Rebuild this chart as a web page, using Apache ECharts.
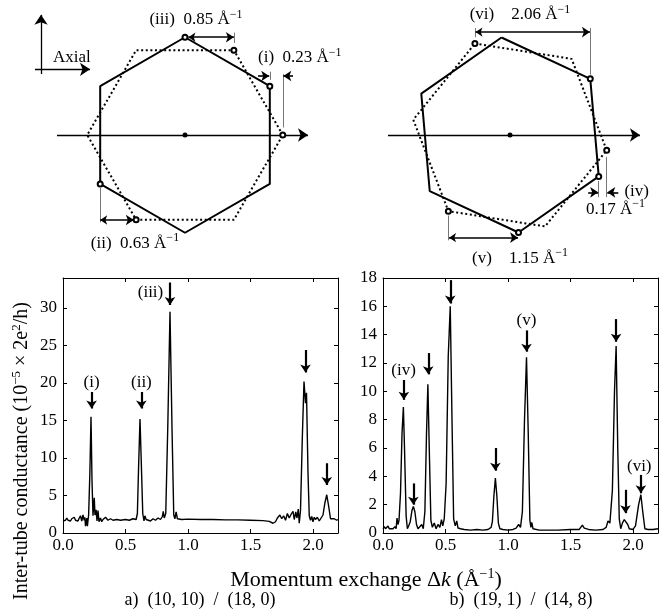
<!DOCTYPE html>
<html>
<head>
<meta charset="utf-8">
<script src="https://cdn.jsdelivr.net/npm/echarts@6/dist/echarts.min.js"></script>
<style>
    html, body {margin: 0; padding: 0; background: #fff;}
    #chart {width: 671px; height: 614px;}
</style>
</head>
<body>
<div id="chart"></div>
<script>
const FONT = "'Liberation Serif', 'DejaVu Serif', serif"

// 曲线 a) (10,10)/(18,0)  [Δk, G]
const curveA = [
    [0.00,1.6],[0.01,1.8],[0.02,1.7],[0.03,2.0],[0.04,1.7],[0.05,1.8],[0.06,1.6],[0.07,1.9],[0.08,1.8],
    [0.09,2.1],[0.10,1.7],[0.11,1.9],[0.12,1.6],[0.13,2.0],[0.14,2.3],[0.15,1.6],[0.16,2.4],[0.17,1.7],
    [0.175,2.1],[0.18,0.9],[0.19,2.0],[0.195,0.9],[0.205,2.4],[0.215,8.0],[0.224,15.5],[0.232,7.0],
    [0.24,2.3],[0.25,4.7],[0.256,2.4],[0.265,3.1],[0.272,1.6],[0.28,3.0],[0.288,1.5],[0.30,2.0],[0.31,1.5],
    [0.32,1.8],[0.34,2.1],[0.36,1.7],[0.38,1.9],[0.40,1.7],[0.43,1.8],[0.46,1.7],[0.50,1.8],[0.53,1.7],
    [0.56,1.9],[0.585,1.8],[0.595,2.6],[0.605,9.0],[0.616,15.2],[0.627,9.0],[0.638,2.6],[0.648,1.6],
    [0.655,2.3],[0.665,1.8],[0.68,1.9],[0.70,1.6],[0.72,1.9],[0.74,1.7],[0.76,2.0],[0.78,1.8],[0.795,2.2],
    [0.802,2.9],[0.81,2.0],[0.822,2.6],[0.838,14.0],[0.856,29.5],[0.872,14.0],[0.886,2.4],[0.895,1.9],
    [0.905,2.8],[0.915,1.9],[0.93,2.0],[0.95,1.8],[1.00,1.85],[1.10,1.8],[1.20,1.8],[1.30,1.75],[1.40,1.75],
    [1.50,1.7],[1.60,1.65],[1.65,1.55],[1.68,1.3],[1.70,1.5],[1.715,2.0],[1.735,2.4],[1.75,1.9],[1.765,2.3],
    [1.78,1.7],[1.795,2.6],[1.81,2.0],[1.825,2.5],[1.84,2.9],[1.85,1.8],[1.862,2.8],[1.872,2.0],[1.882,3.2],
    [1.89,1.3],[1.90,3.0],[1.915,13.0],[1.928,20.2],[1.94,17.3],[1.948,18.7],[1.96,8.0],[1.97,2.3],[1.98,1.7],
    [1.99,2.2],[2.00,1.5],[2.01,2.1],[2.02,1.8],[2.035,2.1],[2.05,1.6],[2.065,2.0],[2.08,2.4],[2.095,4.0],
    [2.11,5.1],[2.125,3.6],[2.14,1.9],[2.15,1.7],[2.17,1.9],[2.19,1.7],[2.2,1.8]
]
// 曲线 b) (19,1)/(14,8)
const curveB = [
    [0.00,0.3],[0.01,0.45],[0.02,0.3],[0.03,0.35],[0.04,0.5],[0.05,0.3],[0.065,0.4],[0.08,0.3],[0.095,0.45],
    [0.105,0.3],[0.112,1.05],[0.12,0.6],[0.128,0.9],[0.14,2.8],[0.152,7.0],[0.163,8.9],[0.172,6.0],[0.185,1.2],
    [0.195,0.3],[0.205,0.5],[0.218,0.8],[0.232,1.6],[0.243,1.87],[0.255,1.5],[0.268,0.6],[0.28,0.3],[0.295,0.4],
    [0.31,0.6],[0.322,0.3],[0.335,1.5],[0.348,7.0],[0.359,10.5],[0.37,6.0],[0.383,0.9],[0.395,0.4],[0.41,0.7],
    [0.425,0.3],[0.44,0.6],[0.455,0.4],[0.468,0.95],[0.478,0.5],[0.49,1.0],[0.505,3.5],[0.522,12.5],[0.538,16.0],
    [0.552,8.0],[0.565,1.0],[0.578,0.5],[0.59,0.85],[0.60,0.35],[0.62,0.3],[0.65,0.25],[0.70,0.2],[0.75,0.25],
    [0.80,0.2],[0.84,0.25],[0.865,0.4],[0.875,0.8],[0.887,2.6],[0.899,3.88],[0.911,2.6],[0.923,0.7],[0.935,0.3],
    [0.96,0.25],[1.00,0.2],[1.04,0.25],[1.065,0.35],[1.085,0.6],[1.10,0.4],[1.115,1.5],[1.132,8.0],[1.148,12.4],
    [1.162,7.0],[1.175,0.9],[1.183,0.4],[1.19,0.75],[1.20,0.3],[1.25,0.2],[1.30,0.2],[1.40,0.2],[1.50,0.25],
    [1.57,0.25],[1.595,0.56],[1.61,0.35],[1.625,0.45],[1.645,0.25],[1.70,0.2],[1.76,0.25],[1.785,0.4],[1.80,0.85],
    [1.815,0.7],[1.835,3.0],[1.852,10.0],[1.865,13.2],[1.878,6.0],[1.89,1.0],[1.902,0.3],[1.915,0.7],[1.93,0.95],
    [1.945,0.9],[1.958,0.6],[1.97,0.3],[1.985,0.2],[2.00,0.25],[2.02,0.5],[2.045,2.0],[2.063,2.7],[2.078,1.5],
    [2.095,0.3],[2.12,0.25],[2.16,0.25],[2.2,0.3]
]

// 峰的箭头 [x, y起, y止]
const arrowsA = [[0.229, 18.8, 16.6], [0.627, 18.8, 16.6], [0.856, 33.4, 30.4], [1.94, 24.4, 21.4], [2.11, 9.3, 6.4]]
const arrowsB = [[0.167, 10.8, 9.4], [0.243, 3.5, 2.0], [0.362, 12.7, 11.2], [0.538, 17.85, 16.2],
    [0.899, 6.0, 4.4], [1.148, 14.3, 12.8], [1.865, 15.1, 13.5], [1.94, 3.05, 1.4], [2.063, 4.1, 2.8]]
const tagsA = [['(i)', 0.229, 20.1], ['(ii)', 0.627, 20.1], ['(iii)', 0.70, 32.0]]
const tagsB = [['(iv)', 0.165, 11.5], ['(v)', 1.148, 15.0], ['(vi)', 2.05, 4.7]]

const xTicks = [0, 0.5, 1.0, 1.5, 2.0]
const yTicksA = [0, 5, 10, 15, 20, 25, 30]
const yTicksB = [0, 2, 4, 6, 8, 10, 12, 14, 16, 18]

// 上方示意图 (Å⁻¹), 中心为原点
const hexSolidL = [[0, 1.70], [1.475, 0.85], [1.475, -0.85], [0, -1.70], [-1.475, -0.85], [-1.475, 0.85]]
const hexDotL = [[1.70, 0], [0.85, 1.475], [-0.85, 1.475], [-1.70, 0], [-0.85, -1.475], [0.85, -1.475]]
const hexSolidR = [[-0.148, 1.696], [1.396, 0.977], [1.543, -0.720], [0.148, -1.696], [-1.396, -0.977], [-1.543, 0.720]]
const hexDotR = [[-0.61, 1.59], [1.072, 1.324], [1.682, -0.266], [0.61, -1.59], [-1.072, -1.324], [-1.682, 0.266]]
const ptsL = [[0, 1.70], [1.475, 0.85], [1.70, 0], [0.85, 1.475], [-1.475, -0.85], [-0.85, -1.475]]
const ptsR = [[-0.61, 1.59], [1.396, 0.977], [1.682, -0.266], [1.543, -0.720], [-1.072, -1.324], [0.148, -1.696]]

// 箭头: [x1, y1, x2, y2]
const axisArrowL = [[-2.226, 0, 2.139, 0], [-2.504, 1.06, -2.504, 2.09], [-2.609, 1.142, -1.652, 1.142]]
const axisArrowR = [[-2.122, 0, 2.26, 0]]
const dimDoubleL = [[0.06, 1.70, 0.85, 1.70], [-1.475, -1.478, -0.89, -1.478]]
const dimSingleL = [[1.27, 1.026, 1.465, 1.026], [1.878, 1.026, 1.71, 1.026]]
const dimDoubleR = [[-0.60, 1.79, 1.39, 1.79], [-1.06, -1.786, 0.14, -1.786]]
const dimSingleR = [[1.36, -0.997, 1.533, -0.997], [1.883, -0.997, 1.692, -0.997]]
const guideL = [[0.85, 1.78, 0.85, 1.60], [1.475, 1.10, 1.475, 0.96], [1.70, 1.06, 1.70, 0.13], [-1.475, -0.92, -1.475, -1.52]]
const guideR = [[-0.61, 1.86, -0.61, 1.70], [1.396, 1.86, 1.396, 1.05], [1.543, -0.80, 1.543, -1.08],
    [1.682, -0.38, 1.682, -1.08], [-1.072, -1.40, -1.072, -1.83]]

// 文字 [文本, 上标, x, y]
const notesCL = [['(iii)  0.85 Å', '−1', 0.19, 2.0], ['(ii)  0.63 Å', '−1', -0.87, -1.88]]
const notesLL = [['(i)  0.23 Å', '−1', 1.27, 1.34], ['Axial', '', -2.296, 1.34]]
const notesCR = [['(vi)    2.06 Å', '−1', 0.174, 2.087], ['(v)    1.15 Å', '−1', 0.174, -2.14]]
const notesLR = [['(iv)', '', 1.99, -0.99], ['0.17 Å', '−1', 1.32, -1.29]]

const chart = echarts.init(document.getElementById('chart'))

const sup = {fontSize: 12, lineHeight: 9, verticalAlign: 'top', fontFamily: FONT, color: '#000'}

function frameX(gi, pos, labels) {
    return {
        type: 'value', gridIndex: gi, position: pos, min: 0, max: 2.2, interval: 0.5,
        axisLine: {show: true, onZero: false, lineStyle: {color: '#000', width: 1}},
        axisTick: {show: true, inside: true, length: 4, lineStyle: {color: '#000'}},
        axisLabel: {
            show: labels, color: '#000', fontFamily: FONT, fontSize: 17, margin: 4,
            formatter: v => xTicks.some(t => Math.abs(t - v) < 1e-6) ? v.toFixed(1) : ''
        },
        splitLine: {show: false}
    }
}

function frameY(gi, pos, max, step, ticks, labels) {
    return {
        type: 'value', gridIndex: gi, position: pos, min: 0, max: max, interval: step,
        axisLine: {show: true, onZero: false, lineStyle: {color: '#000', width: 1}},
        axisTick: {show: true, inside: true, length: 4, lineStyle: {color: '#000'}},
        axisLabel: {
            show: labels, color: '#000', fontFamily: FONT, fontSize: 17, margin: 6,
            formatter: v => ticks.indexOf(v) >= 0 ? String(v) : ''
        },
        splitLine: {show: false}
    }
}

function hidden(gi, min, max) {
    return {type: 'value', gridIndex: gi, min: min, max: max, show: false}
}

function arrowSeries(ax, list, sym, size, width) {
    return {
        type: 'lines', coordinateSystem: 'cartesian2d', xAxisIndex: ax, yAxisIndex: ax,
        symbol: sym, symbolSize: size, silent: true, z: 5,
        lineStyle: {color: '#000', width: width, opacity: 1, curveness: 0},
        data: list.map(a => ({coords: [[a[0], a[1]], [a[2], a[3]]]}))
    }
}

function peakArrows(ax, list) {
    return arrowSeries(ax, list.map(a => [a[0], a[1], a[0], a[2]]), ['none', 'arrow'], [7, 8], 2.2)
}

function tagSeries(ax, list, size) {
    return {
        type: 'scatter', xAxisIndex: ax, yAxisIndex: ax, symbolSize: 0, silent: true, z: 6,
        itemStyle: {opacity: 1},
        label: {show: true, position: [0, 0], align: 'center', verticalAlign: 'middle', opacity: 1,
            color: '#000', textBorderWidth: 0, fontFamily: FONT, fontSize: size, formatter: p => p.data[2]},
        data: list.map(t => [t[1], t[2], t[0]])
    }
}

function noteSeries(ax, list, align) {
    return {
        type: 'scatter', xAxisIndex: ax, yAxisIndex: ax, symbolSize: 0, silent: true, z: 6,
        itemStyle: {opacity: 1},
        label: {show: true, position: [0, 0], align: align, verticalAlign: 'middle', opacity: 1,
            color: '#000', textBorderWidth: 0, fontFamily: FONT, fontSize: 17, lineHeight: 22, rich: {s: sup},
            formatter: p => p.data[2] + (p.data[3] ? '{s|' + p.data[3] + '}' : '')},
        data: list.map(t => [t[2], t[3], t[0], t[1]])
    }
}

function closed(arr) {
    return arr.concat([arr[0]])
}

function hexLine(ax, arr, dotted) {
    return {
        type: 'line', xAxisIndex: ax, yAxisIndex: ax, data: closed(arr), symbol: 'none', silent: true,
        lineStyle: dotted ? {color: '#000', width: 2, type: [2, 2.6]} : {color: '#000', width: 2}, z: 3
    }
}

function markers(ax, arr) {
    return [{
        type: 'scatter', xAxisIndex: ax, yAxisIndex: ax, symbol: 'emptyCircle', symbolSize: 5, silent: true, z: 7,
        itemStyle: {color: '#000', borderWidth: 1.2, opacity: 1}, data: arr
    }, {
        type: 'scatter', xAxisIndex: ax, yAxisIndex: ax, symbol: 'circle', symbolSize: 5, silent: true, z: 7,
        itemStyle: {color: '#000', opacity: 1}, data: [[0, 0]]
    }]
}

const option = {
    animation: false,
    backgroundColor: '#fff',
    grid: [
        {left: 63, top: 278, width: 275, height: 255},
        {left: 383, top: 278, width: 275, height: 255},
        {left: 1, top: 2.75, width: 333.5, height: 264.5},
        {left: 377.75, top: 2.75, width: 293.25, height: 264.5}
    ],
    xAxis: [
        frameX(0, 'bottom', true), frameX(0, 'top', false),
        frameX(1, 'bottom', true), frameX(1, 'top', false),
        hidden(2, -3.2, 2.6), hidden(3, -2.3, 2.8)
    ],
    yAxis: [
        frameY(0, 'left', 34, 5, yTicksA, true), frameY(0, 'right', 34, 5, yTicksA, false),
        frameY(1, 'left', 18, 2, yTicksB, true), frameY(1, 'right', 18, 2, yTicksB, false),
        hidden(2, -2.3, 2.3), hidden(3, -2.3, 2.3)
    ],
    graphic: [
        {
            type: 'text', x: 22, y: 451, rotation: Math.PI / 2,
            style: {
                text: 'Inter-tube conductance (10{s|−5} × 2e{s|2}/h)',
                fontFamily: FONT, fontSize: 20, lineHeight: 24, fill: '#000',
                align: 'center', verticalAlign: 'middle',
                rich: {s: {fontSize: 13, lineHeight: 9, verticalAlign: 'top', fontFamily: FONT, fill: '#000'}}
            }
        },
        {
            type: 'text', x: 366, y: 580,
            style: {
                text: 'Momentum exchange Δ{i|k} (Å{s|−1})',
                fontFamily: FONT, fontSize: 22, lineHeight: 26, fill: '#000',
                align: 'center', verticalAlign: 'middle',
                rich: {
                    s: {fontSize: 14, lineHeight: 10, verticalAlign: 'top', fontFamily: FONT, fill: '#000'},
                    i: {fontSize: 22, fontStyle: 'italic', fontFamily: FONT, fill: '#000'}
                }
            }
        },
        {
            type: 'text', x: 200, y: 600,
            style: {text: 'a)  (10, 10)  /  (18, 0)', fontFamily: FONT, fontSize: 18, fill: '#000',
                align: 'center', verticalAlign: 'middle'}
        },
        {
            type: 'text', x: 521, y: 600,
            style: {text: 'b)  (19, 1)  /  (14, 8)', fontFamily: FONT, fontSize: 18, fill: '#000',
                align: 'center', verticalAlign: 'middle'}
        }
    ],
    series: [
        {type: 'line', xAxisIndex: 0, yAxisIndex: 0, data: curveA, symbol: 'none', silent: true,
            lineStyle: {color: '#000', width: 1.4}},
        {type: 'line', xAxisIndex: 2, yAxisIndex: 2, data: curveB, symbol: 'none', silent: true,
            lineStyle: {color: '#000', width: 1.4}},
        peakArrows(0, arrowsA), peakArrows(2, arrowsB),
        tagSeries(0, tagsA, 17), tagSeries(2, tagsB, 17),

        hexLine(4, hexSolidL, false), hexLine(4, hexDotL, true),
        hexLine(5, hexSolidR, false), hexLine(5, hexDotR, true),
        arrowSeries(4, axisArrowL, ['none', 'arrow'], [7, 10], 1.3),
        arrowSeries(5, axisArrowR, ['none', 'arrow'], [7, 10], 1.3),
        arrowSeries(4, dimDoubleL, ['arrow', 'arrow'], [7, 8], 1.6),
        arrowSeries(4, dimSingleL, ['none', 'arrow'], [7, 8], 1.6),
        arrowSeries(5, dimDoubleR, ['arrow', 'arrow'], [7, 8], 1.6),
        arrowSeries(5, dimSingleR, ['none', 'arrow'], [7, 8], 1.6),
        {
            type: 'lines', coordinateSystem: 'cartesian2d', xAxisIndex: 4, yAxisIndex: 4, silent: true,
            lineStyle: {color: '#777', width: 1, opacity: 1},
            data: guideL.map(a => ({coords: [[a[0], a[1]], [a[2], a[3]]]}))
        },
        {
            type: 'lines', coordinateSystem: 'cartesian2d', xAxisIndex: 5, yAxisIndex: 5, silent: true,
            lineStyle: {color: '#777', width: 1, opacity: 1},
            data: guideR.map(a => ({coords: [[a[0], a[1]], [a[2], a[3]]]}))
        },
        ...markers(4, ptsL), ...markers(5, ptsR),
        noteSeries(4, notesCL, 'center'), noteSeries(4, notesLL, 'left'),
        noteSeries(5, notesCR, 'center'), noteSeries(5, notesLR, 'left')
    ]
}

chart.setOption(option)
</script>
</body>
</html>
